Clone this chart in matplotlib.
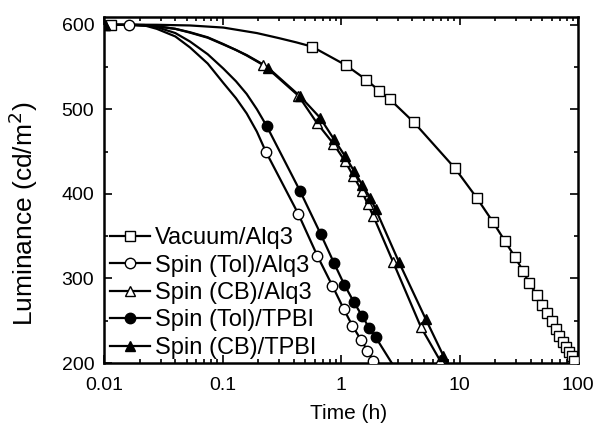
import matplotlib
matplotlib.use('Agg')
import matplotlib.pyplot as plt
import numpy as np

plt.rcParams['font.family'] = ['Liberation Sans', 'DejaVu Sans']

# -------------------------- data --------------------------
labels = ['Vacuum/Alq3', 'Spin (Tol)/Alq3', 'Spin (CB)/Alq3',
          'Spin (Tol)/TPBI', 'Spin (CB)/TPBI']

# measured points (markers)
vac_t = [0.0115, 0.569, 1.10, 1.63, 2.09, 2.59, 4.13, 9.16, 14.05, 19.2, 24.2,
         29.4, 34.4, 38.6, 45.1, 49.7, 54.8, 60.4, 65.2, 69.2, 74.7, 79.2,
         84.0, 89.0, 92.5]
vac_L = [600, 574, 552, 535, 522, 511.6, 484.4, 430.2, 394.8, 366.5, 344,
         325.2, 308.7, 294.6, 280.4, 268.6, 259.2, 249.8, 240.3, 232.1, 225,
         219, 213.2, 208.5, 202.6]

tol_alq_t = [0.0163, 0.232, 0.437, 0.631, 0.845, 1.054, 1.245, 1.475, 1.667, 1.874]
tol_alq_L = [600, 449.9, 376, 326.8, 291.4, 263.9, 244.2, 227.4, 214.7, 202.9]

cb_alq_t = [0.0102, 0.221, 0.437, 0.624, 0.861, 1.08, 1.27, 1.50, 1.68, 1.87,
            2.76, 4.73, 6.85]
cb_alq_L = [600, 552.8, 516, 484.1, 459.3, 438.8, 421.1, 403.4, 387.7, 374,
            319, 242.3, 203]

tol_tpbi_t = [0.236, 0.451, 0.674, 0.873, 1.066, 1.288, 1.50, 1.73, 1.96]
tol_tpbi_L = [480.1, 403.4, 352.4, 318.2, 292.6, 271.8, 256, 241.5, 230.5]

cb_tpbi_t = [0.0102, 0.243, 0.451, 0.665, 0.873, 1.08, 1.288, 1.51, 1.76, 1.96,
             3.09, 5.18, 7.30]
cb_tpbi_L = [600, 548.9, 515.4, 490, 464.4, 444.7, 427, 410.5, 395.6, 381.8,
             319, 252.1, 208.8]

# extra points read along the drawn (fitted) curves, without markers
vac_curve_t = [0.0279, 0.0532, 0.1017, 0.195, 0.30, 0.42]
vac_curve_L = [599.8, 599, 596.5, 590, 584, 579]
tol_alq_curve_t = [0.022, 0.0279, 0.04, 0.0532, 0.075, 0.1017, 0.13, 0.16,
                   0.195, 2.07]
tol_alq_curve_L = [599, 595, 586, 573, 554, 531, 513, 495, 473.5, 200]
cb_alq_curve_t = [0.0163, 0.0279, 0.04, 0.0532, 0.075, 0.1017, 0.13, 0.16, 7.0]
cb_alq_curve_L = [599.8, 598, 595, 591, 585, 577, 570, 564, 200]
tol_tpbi_curve_t = [0.0163, 0.022, 0.0279, 0.04, 0.0532, 0.075, 0.1017, 0.13,
                    0.16, 0.195, 2.68]
tol_tpbi_curve_L = [600, 599.5, 597, 590, 580, 565, 548, 533, 518, 500, 200]
cb_tpbi_curve_t = [0.0163, 0.0279, 0.04, 0.0532, 0.075, 0.1017, 0.13, 0.16, 7.8]
cb_tpbi_curve_L = [599.8, 598, 595, 590.5, 584.5, 576.5, 570, 563.5, 200]

series = [
    (vac_t, vac_L, vac_curve_t, vac_curve_L, 's', 'white'),
    (tol_alq_t, tol_alq_L, tol_alq_curve_t, tol_alq_curve_L, 'o', 'white'),
    (cb_alq_t, cb_alq_L, cb_alq_curve_t, cb_alq_curve_L, '^', 'white'),
    (tol_tpbi_t, tol_tpbi_L, tol_tpbi_curve_t, tol_tpbi_curve_L, 'o', 'black'),
    (cb_tpbi_t, cb_tpbi_L, cb_tpbi_curve_t, cb_tpbi_curve_L, '^', 'black'),
]

# -------------------------- plot --------------------------
fig = plt.figure(figsize=(6.0, 4.29), dpi=100)
ax = fig.add_axes([104 / 600, 1 - 363 / 429, 474 / 600, 346 / 429])

handles = []
for (t, L, ct, cL, m, fc), lab in zip(series, labels):
    lt = np.array(list(t) + list(ct))
    lL = np.array(list(L) + list(cL))
    order = np.argsort(lt)
    ax.plot(lt[order], lL[order], color='black', lw=1.6, zorder=2)
    ax.plot(t, L, ls='none', marker=m, ms=7.5, mfc=fc, mec='black', mew=1.0,
            zorder=3)
    h, = ax.plot([], [], color='black', lw=1.6, marker=m, ms=7.5, mfc=fc,
                 mec='black', mew=1.0, label=lab)
    handles.append(h)

ax.set_xscale('log')
ax.set_xlim(0.01, 100)
ax.set_ylim(200, 609)
ax.set_xticks([0.01, 0.1, 1, 10, 100])
ax.set_xticklabels(['0.01', '0.1', '1', '10', '100'])
ax.set_yticks([200, 300, 400, 500, 600])
ax.set_yticks(np.arange(250, 600, 100), minor=True)

ax.tick_params(which='both', direction='in', top=True, right=True,
               labelsize=14, width=1.2)
ax.tick_params(which='major', length=6)
ax.tick_params(which='minor', length=3)
ax.tick_params(axis='x', which='major', pad=10)
ax.tick_params(axis='y', which='major', pad=7)
for s in ax.spines.values():
    s.set_linewidth(1.8)

ax.set_xlabel('Time (h)', fontsize=15)
ax.xaxis.set_label_coords(0.515, -0.118)
ax.set_ylabel('Luminance (cd/m$^2$)', fontsize=19)
ax.yaxis.set_label_coords(-0.136, 0.43)

ax.legend(handles=handles, loc='lower left', bbox_to_anchor=(0.012, 0.012),
          frameon=False, fontsize=17, handlelength=1.7, handletextpad=0.2,
          labelspacing=0.23, borderpad=0, borderaxespad=0)

fig.savefig('out.png', dpi=100)
